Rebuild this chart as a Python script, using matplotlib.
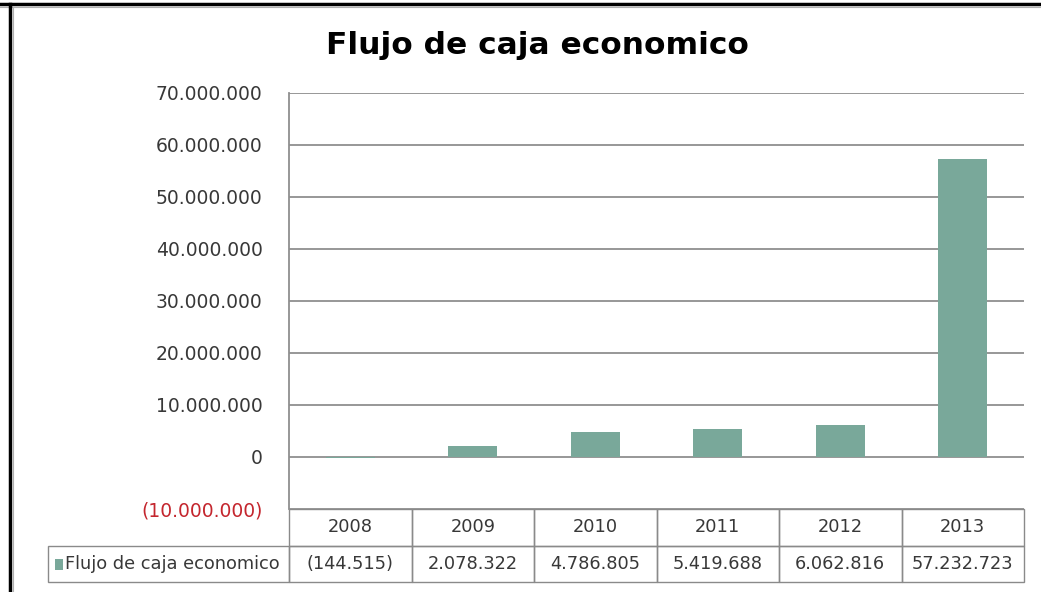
import matplotlib.pyplot as plt
from matplotlib.patches import Rectangle
from matplotlib.lines import Line2D
from matplotlib.ticker import FuncFormatter, MultipleLocator
import matplotlib.transforms as mtransforms

years = ['2008', '2009', '2010', '2011', '2012', '2013']
flujo = [-144515, 2078322, 4786805, 5419688, 6062816, 57232723]
series_name = 'Flujo de caja economico'
title = 'Flujo de caja economico'

bar_color = '#79a89a'
text_color = '#383838'
grid_color = '#8f8f8f'
neg_color = '#c4262e'

plt.rcParams['font.family'] = ['DejaVu Sans']


def miles(v):
    s = f'{abs(v):,.0f}'.replace(',', '.')
    return f'({s})' if v < 0 else s


fig = plt.figure(figsize=(10.41, 5.92), dpi=100)
ax = fig.add_axes([289 / 1041, 83 / 592, 735 / 1041, 416 / 592])

x = list(range(len(years)))
ax.bar(x, flujo, width=0.4, color=bar_color, zorder=3)

ax.set_xlim(-0.5, len(years) - 0.5)
ax.set_ylim(-10_000_000, 70_000_000)
ax.yaxis.set_major_locator(MultipleLocator(10_000_000))
ax.yaxis.set_major_formatter(FuncFormatter(lambda v, p: miles(v)))
ax.tick_params(axis='y', length=0, pad=19, labelsize=13.5, labelcolor=text_color)
ax.set_xticks([])
ax.grid(axis='y', color=grid_color, linewidth=1.3, zorder=0)
for side in ['top', 'right', 'bottom']:
    ax.spines[side].set_visible(False)
ax.spines['left'].set_color(grid_color)
ax.spines['left'].set_linewidth(1.3)

fig.canvas.draw()
for lab in ax.get_yticklabels():
    if lab.get_text().startswith('('):
        lab.set_color(neg_color)

# data table under the plot
trans = mtransforms.blended_transform_factory(ax.transData, ax.transAxes)
row_h = 36.5 / 416
edge = '#8a8a8a'
for i, (yr, v) in enumerate(zip(years, flujo)):
    for r, txt in enumerate([yr, miles(v)]):
        y0 = -row_h * (r + 1)
        ax.add_patch(Rectangle((i - 0.5, y0), 1, row_h, transform=trans,
                               facecolor='none', edgecolor=edge, linewidth=1.0,
                               clip_on=False))
        ax.text(i, y0 + row_h / 2, txt, transform=trans, ha='center', va='center',
                fontsize=12.8, color=text_color)

# legend cell with series key
leg_left = (48 - 289) / 735
ax.add_patch(Rectangle((leg_left, -2 * row_h), -leg_left, row_h, transform=ax.transAxes,
                       facecolor='none', edgecolor=edge, linewidth=1.0, clip_on=False))
ax.add_patch(Rectangle((leg_left + 7 / 735, -2 * row_h + row_h * 0.33), 8 / 735, row_h * 0.3,
                       transform=ax.transAxes, facecolor=bar_color, edgecolor='none',
                       clip_on=False))
ax.text(leg_left + 17 / 735, -1.5 * row_h, series_name, transform=ax.transAxes,
        ha='left', va='center', fontsize=12.8, color=text_color)

fig.text(537 / 1041, 1 - 45 / 592, title, ha='center', va='center',
         fontsize=22.5, fontweight='bold', color='black')

# chart frame
fig.add_artist(Line2D([0, 1], [1 - 4 / 592] * 2, color='black', linewidth=2.5))
fig.add_artist(Line2D([0, 1], [1 - 6.5 / 592] * 2, color='#b0b0b0', linewidth=0.8))
fig.add_artist(Line2D([9.5 / 1041] * 2, [0, 1 - 4 / 592], color='black', linewidth=2.5))
fig.add_artist(Line2D([12.5 / 1041] * 2, [0, 1 - 7 / 592], color='#b0b0b0', linewidth=0.8))

fig.savefig('out.png', dpi=100)
